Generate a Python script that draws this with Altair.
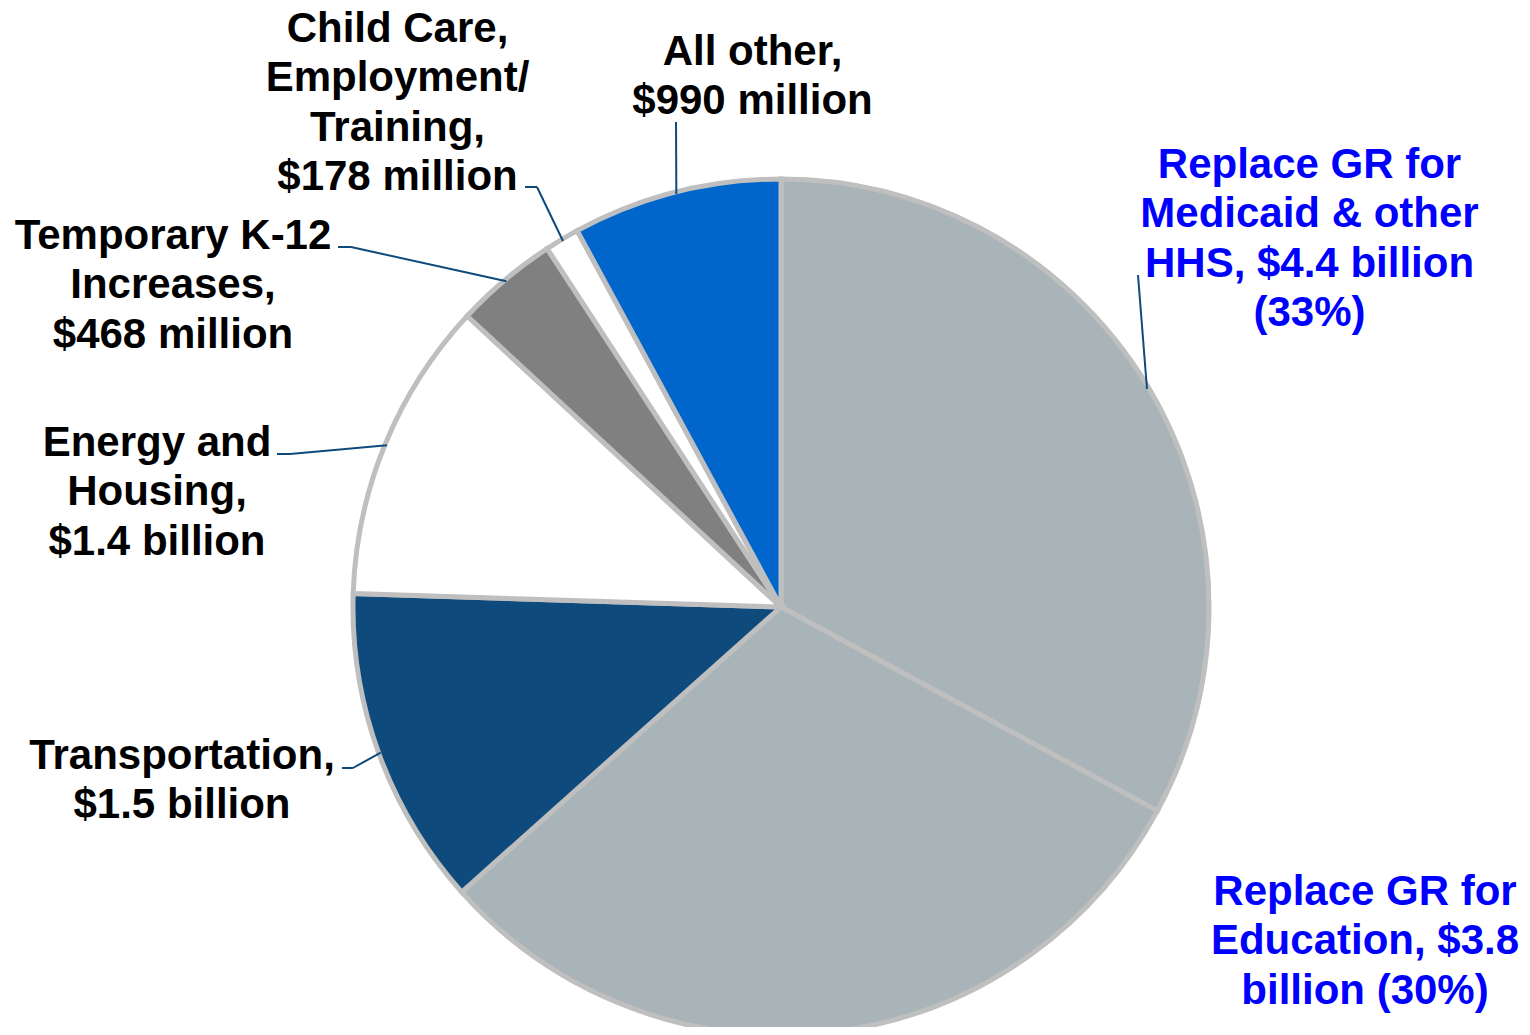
import altair as alt
import pandas as pd
import numpy as np

# ---------------- data ----------------
categories = [
    "Replace GR for Medicaid & other HHS",
    "Replace GR for Education",
    "Transportation",
    "Energy and Housing",
    "Temporary K-12 Increases",
    "Child Care, Employment/Training",
    "All other",
]
# share of the pie (percent)
share_pct = [32.9, 30.5, 12.1, 11.4, 3.9, 1.3, 7.9]
label_lines = [
    ["Replace GR for", "Medicaid & other", "HHS, $4.4 billion", "(33%)"],
    ["Replace GR for", "Education, $3.8", "billion (30%)"],
    ["Transportation,", "$1.5 billion"],
    ["Energy and", "Housing,", "$1.4 billion"],
    ["Temporary K-12", "Increases,", "$468 million"],
    ["Child Care,", "Employment/", "Training,", "$178 million"],
    ["All other,", "$990 million"],
]

# ---------------- styles / layout ----------------
slice_colors = ["#A9B4B8", "#A9B4B8", "#0E4B7C", "#FFFFFF", "#808080", "#FFFFFF", "#0066CC"]
text_colors = ["#0000FF", "#0000FF", "#000000", "#000000", "#000000", "#000000", "#000000"]
M = 8  # page margin
CX, CY, R = 781 - M, 607 - M, 428
# first-line baseline anchor (page coords)
label_anchor = [(1309.5, 178), (1365, 905), (182, 769), (157, 456),
                (173, 249), (397.5, 42), (752.5, 65)]
LINE_STEP = 49.3
# leader line start points (page coords), ending at the slice edge
leader_start = [
    [(1138, 275)],
    [],
    [(342, 768), (353, 768)],
    [(277, 454), (290, 454)],
    [(338, 247), (351, 247)],
    [(525, 187), (537, 187)],
    [(676, 122)],
]

# ---------------- build tables ----------------
pie_df = pd.DataFrame({"cat": categories, "share": share_pct, "idx": range(len(categories))})

txt_rows = []
for i, lines in enumerate(label_lines):
    ax, ay = label_anchor[i]
    for j, ln in enumerate(lines):
        txt_rows.append({"x": ax - M, "y": ay - M + j * LINE_STEP, "line": ln, "tc": text_colors[i]})
txt_df = pd.DataFrame(txt_rows)

shares = np.array(share_pct, dtype=float)
cum = np.cumsum(shares) - shares / 2.0
ang = cum / shares.sum() * 2 * np.pi
seg_rows = []
for i, pts in enumerate(leader_start):
    if not pts:
        continue
    ex = CX + (R - 2) * np.sin(ang[i])
    ey = CY - (R - 2) * np.cos(ang[i])
    path = [(px - M, py - M) for px, py in pts] + [(ex, ey)]
    for a, b in zip(path[:-1], path[1:]):
        seg_rows.append({"x": a[0], "y": a[1], "x2": b[0], "y2": b[1]})
seg_df = pd.DataFrame(seg_rows)

# ---------------- chart ----------------
pie = alt.Chart(pie_df).mark_arc(radius=R, stroke="#BFBFBF", strokeWidth=5).encode(
    theta=alt.Theta("share:Q", stack=True),
    order=alt.Order("idx:Q"),
    color=alt.Color("cat:N", scale=alt.Scale(domain=categories, range=slice_colors), legend=None),
    x=alt.value(CX),
    y=alt.value(CY),
)

leaders = alt.Chart(seg_df).mark_rule(color="#0E4B7C", strokeWidth=2).encode(
    x=alt.X("x:Q", scale=None, axis=None),
    y=alt.Y("y:Q", scale=None, axis=None),
    x2="x2:Q",
    y2="y2:Q",
)

labels = alt.Chart(txt_df).mark_text(
    font="Liberation Sans", fontSize=42, fontWeight="bold", align="center", baseline="alphabetic"
).encode(
    x=alt.X("x:Q", scale=None, axis=None),
    y=alt.Y("y:Q", scale=None, axis=None),
    text="line:N",
    color=alt.Color("tc:N", scale=None),
)

chart = alt.layer(pie, leaders, labels).properties(
    width=1514, height=1019, padding=0, autosize="none"
).configure_view(stroke=None)

chart.save("out.html", embed_options={"renderer": "svg", "actions": False})
